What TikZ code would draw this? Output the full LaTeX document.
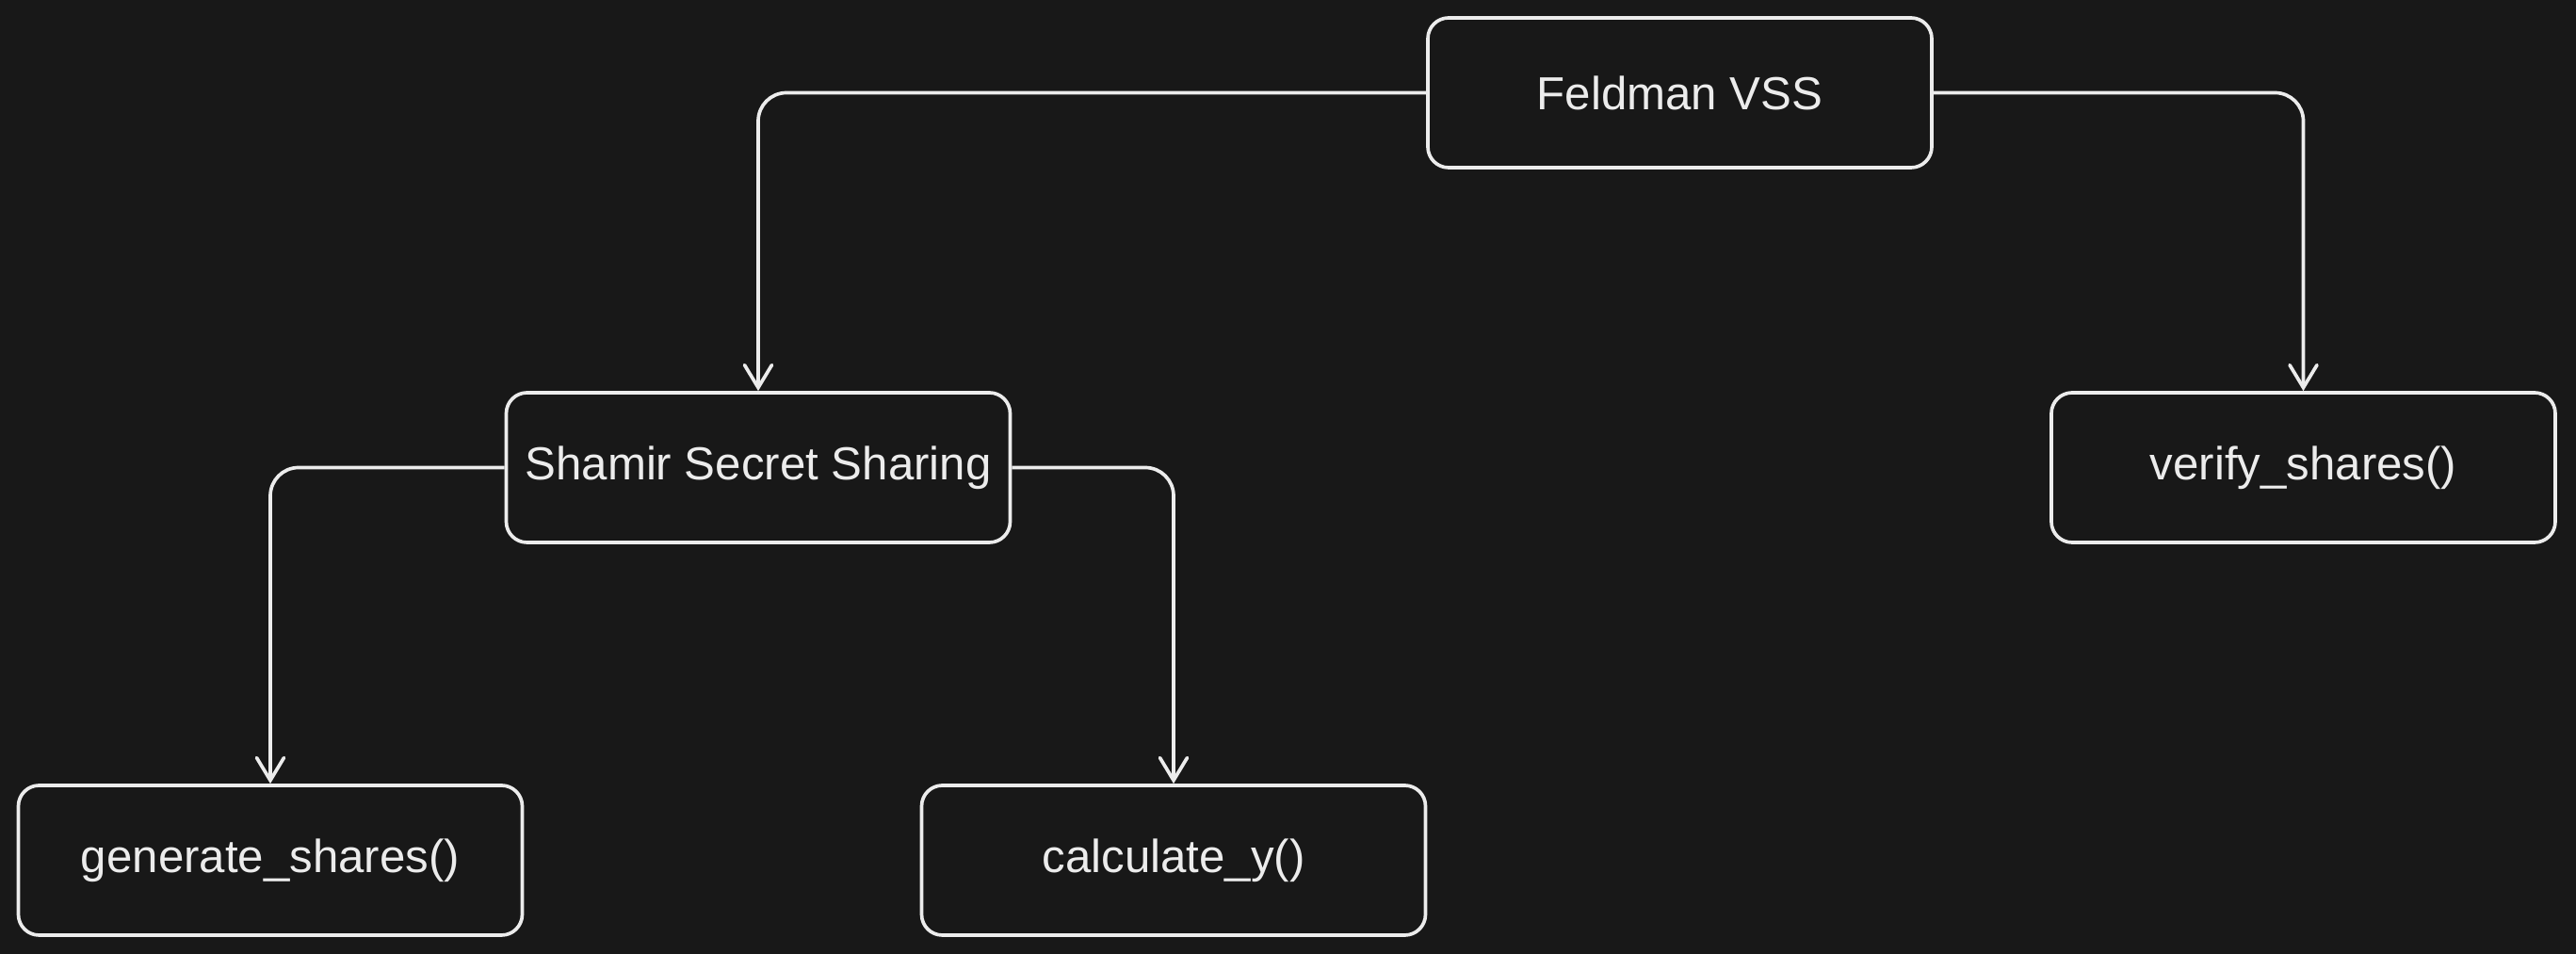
\documentclass[tikz,border=0pt]{standalone}
\usepackage{fontspec}
\setmainfont{Liberation Sans}
\usetikzlibrary{arrows.meta}

\definecolor{bgdark}{HTML}{181818}
\definecolor{inkpale}{HTML}{ECECEC}

\tikzset{
    % boxes of the call tree
    funcbox/.style={draw=inkpale, line width=1.05pt, rounded corners=0.22cm,
        minimum width=5.35cm, minimum height=1.59cm, inner sep=0pt,
        text=inkpale, font=\fontsize{14}{16}\selectfont},
    % elbow connectors with a small bend
    calls/.style={draw=inkpale, line width=1.05pt, rounded corners=0.3cm,
        -{Straight Barb[length=2.4mm, width=2.9mm, line cap=round]}}
}

\begin{document}
\begin{tikzpicture}
    % dark canvas, also fixes the margins
    \fill[bgdark] (0,0) rectangle (27.35,10.13);
    \useasboundingbox (0,0) rectangle (27.35,10.13);

    % the boxes are placed at coordinates
    \node[funcbox] (feldman)   at (17.835, 9.145) {Feldman VSS};
    \node[funcbox] (shamir)    at (8.05, 5.165)   {Shamir Secret Sharing};
    \node[funcbox] (verify)    at (24.455, 5.165) {verify\_shares()};
    \node[funcbox] (generate)  at (2.87, 0.995)   {generate\_shares()};
    \node[funcbox] (calculate) at (12.46, 0.995)  {calculate\_y()};

    % the connectors leave the sides and drop onto the tops
    \draw[calls] (feldman.west) -| (shamir.north);
    \draw[calls] (feldman.east) -| (verify.north);
    \draw[calls] (shamir.west) -| (generate.north);
    \draw[calls] (shamir.east) -| (calculate.north);
\end{tikzpicture}
\end{document}
